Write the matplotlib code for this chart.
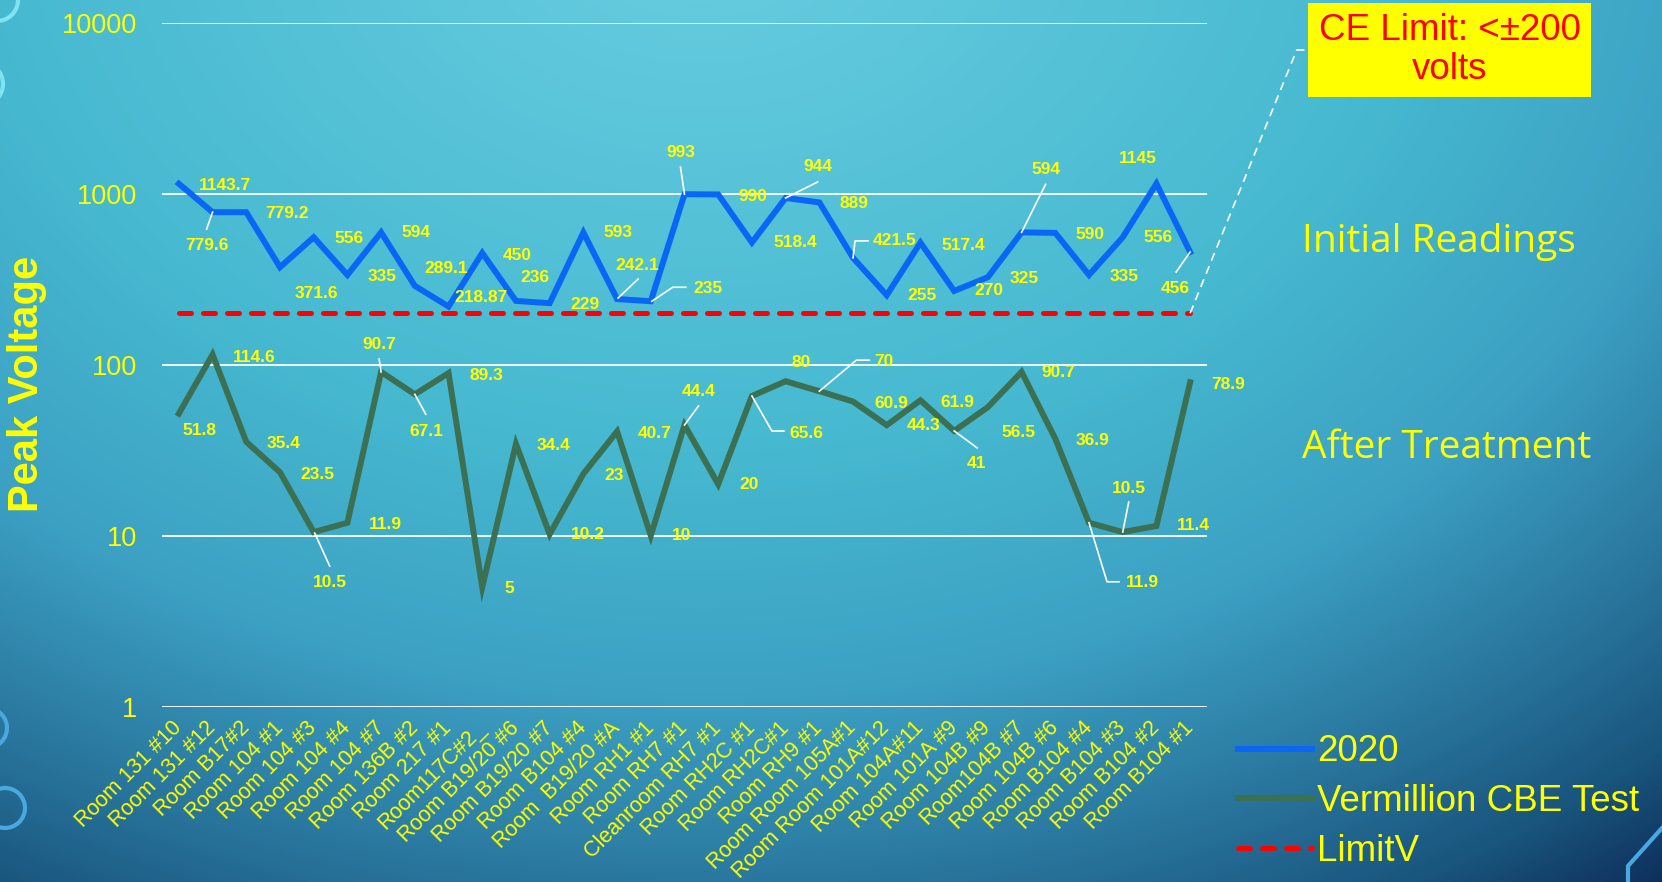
import numpy as np
import matplotlib
matplotlib.use("Agg")
import matplotlib.pyplot as plt
from matplotlib.colors import LinearSegmentedColormap
from matplotlib.lines import Line2D
from matplotlib.patches import Circle, Rectangle
from matplotlib.ticker import NullLocator
from matplotlib.transforms import IdentityTransform

W, H = 1662, 882

rooms = [
    "Room 131 #10", "Room 131 #12", "Room B17#2", "Room 104 #1", "Room 104 #3",
    "Room 104 #4", "Room 104 #7", "Room 136B #2", "Room 217 #1", "Room117C#2_",
    "Room B19/20 #6", "Room B19/20 #7", "Room B104 #4", "Room  B19/20 #A",
    "Room RH1 #1", "Room RH7 #1", "Cleanroom RH7 #1", "Room RH2C #1",
    "Room RH2C#1", "Room RH9 #1", "Room Room 105A#1", "Room Room 101A#12",
    "Room 104A#11", "Room 101A #9", "Room 104B #9", "Room104B #7",
    "Room 104B #6", "Room B104 #4", "Room B104 #3", "Room B104 #2", "Room B104 #1",
]

readings_2020 = [
    1143.7, 779.6, 779.2, 371.6, 556, 335, 594, 289.1, 218.87, 450, 236, 229,
    593, 242.1, 235, 993, 990, 518.4, 944, 889, 421.5, 255, 517.4, 270, 325,
    594, 590, 335, 556, 1145, 456,
]

vermillion = [
    51.8, 114.6, 35.4, 23.5, 10.5, 11.9, 90.7, 67.1, 89.3, 5, 34.4, 10.2, 23,
    40.7, 10, 44.4, 20, 65.6, 80, 70, 60.9, 44.3, 61.9, 41, 56.5, 90.7, 36.9,
    11.9, 10.5, 11.4, 78.9,
]

limit_value = 200
limit_v = [limit_value] * len(rooms)

# label offsets from each point, in pixels (x right, y down)
off_2020 = [
    (46, 2), (-6, 33), (41, 1), (36, 26), (35, 1), (35, 2), (35, 0), (31, -17),
    (32, -9), (35, 2), (19, -23), (35, 1), (35, 0), (20, -34), (57, -13),
    (-4, -42), (35, 2), (43, 0), (32, -31), (35, 1), (42, -17), (35, 0),
    (43, 3), (35, 0), (36, 1), (24, -63), (35, 2), (35, 2), (35, 0),
    (-19, -25), (-15, 36),
]
off_verm = [
    (21, 17), (42, 3), (37, 2), (37, 2), (16, 50), (38, 2), (-2, -27),
    (11, 37), (38, 2), (27, 1), (38, 2), (38, 0), (31, 2), (38, 2), (31, 0),
    (14, -33), (31, 0), (54, 37), (15, -19), (65, -30), (38, 2), (37, 0),
    (37, 2), (22, 33), (31, 25), (37, 1), (37, 2), (53, 60), (6, -44),
    (37, 0), (38, 2),
]

# leader lines (pixel offsets from the point)
lead_2020 = {
    1: [(-6, 17), (0, 0)],
    13: [(1, -1), (21, -20)],
    14: [(1, 0), (22, -14), (35, -14)],
    15: [(-4, -27), (0, 0)],
    18: [(0, 0), (32, -16)],
    20: [(0, 0), (2, -17), (15, -17)],
    25: [(0, 0), (24, -48)],
    30: [(0, 0), (-14, 20)],
}
lead_verm = {
    4: [(1, 1), (16, 34)],
    6: [(-2, -13), (0, 0)],
    7: [(0, 0), (11, 20)],
    15: [(0, 0), (14, -19)],
    17: [(0, 0), (20, 35), (32, 35)],
    19: [(0, 0), (37, -31), (50, -31)],
    23: [(0, 0), (23, 17)],
    27: [(0, 0), (18, 59), (30, 59)],
    28: [(0, 0), (6, -30)],
}

YELLOW = "#FFFF00"
BLUE = "#0A66F5"
GREEN = "#3B7052"
RING = "#4AA8E0"

fig = plt.figure(figsize=(W / 100, H / 100), dpi=100)

# slide background
bg = fig.add_axes([0, 0, 1, 1], zorder=-5)
yy, xx = np.mgrid[0:H:2, 0:W:2]
s = np.hypot((xx - 700) / 1300, (yy + 100) / 1000) / 1.25
bg_cmap = LinearSegmentedColormap.from_list("slide", [
    (0.0, (100 / 255, 202 / 255, 222 / 255)),
    (0.08, (100 / 255, 202 / 255, 222 / 255)),
    (0.44, (70 / 255, 185 / 255, 208 / 255)),
    (0.64, (60 / 255, 160 / 255, 195 / 255)),
    (0.8, (40 / 255, 115 / 255, 155 / 255)),
    (0.9, (25 / 255, 85 / 255, 125 / 255)),
    (1.0, (12 / 255, 40 / 255, 85 / 255)),
])
bg.imshow(s, cmap=bg_cmap, vmin=0, vmax=1, extent=[0, W, H, 0], aspect="auto",
          interpolation="bilinear")
for (cx, cy, r, c) in [(-3, 0, 21, "#7FE3F0"), (-19, 84, 22, "#7FE3F0"),
                       (-13, 728, 20, RING), (5, 808, 20, RING)]:
    bg.add_patch(Circle((cx, cy), r, fill=False, ec=c, lw=3))
bg.plot([1628, 1628, 1662], [882, 866, 828], color=RING, lw=3)
bg.set_xlim(0, W)
bg.set_ylim(H, 0)
bg.axis("off")

ax = fig.add_axes([162 / W, 1 - 706.7 / H, 1045 / W, 684 / H])
ax.set_facecolor("none")
x = np.arange(len(rooms))

ax.plot(x, readings_2020, color=BLUE, lw=4.3, solid_joinstyle="miter", zorder=3)
ax.plot(x, vermillion, color=GREEN, lw=4.3, solid_joinstyle="miter", zorder=3)
ax.plot(x, limit_v, color="#FF0000", lw=3.6, linestyle=(0, (2.4, 2.4)),
        dash_capstyle="round", zorder=3)

ax.set_yscale("log")
ax.set_ylim(1, 10000)
ax.set_xlim(-0.5, len(rooms) - 0.5)
ax.set_yticks([1, 10, 100, 1000, 10000])
ax.set_yticklabels(["1", "10", "100", "1000", "10000"])
ax.yaxis.set_minor_locator(NullLocator())
ax.set_xticks(x)
ax.set_xticklabels(rooms, rotation=45, ha="right", va="center",
                   rotation_mode="anchor")
ax.tick_params(axis="y", length=0, pad=18, labelsize=19.5, labelcolor=YELLOW)
ax.tick_params(axis="x", length=0, pad=13, labelsize=15.5, labelcolor=YELLOW)
for lab in ax.get_xticklabels() + ax.get_yticklabels():
    lab.set_family("Liberation Sans")
ax.yaxis.grid(True, color="white", lw=1.3)
ax.set_axisbelow(True)
for sp in ax.spines.values():
    sp.set_visible(False)

label_font = dict(family=["Liberation Sans Narrow", "Liberation Sans"],
                  weight="bold", fontsize=12.5, color=YELLOW)


def label_series(values, offsets, leaders):
    for i, v in enumerate(values):
        dx, dy = offsets[i]
        ax.annotate(f"{v:g}", (i, v), xytext=(dx, -dy),
                    textcoords="offset pixels", ha="center", va="center",
                    zorder=5, **label_font)
        if i in leaders:
            px, py = ax.transData.transform((i, v))
            pts = leaders[i]
            fig.add_artist(Line2D([px + a for a, b in pts],
                                  [py - b for a, b in pts],
                                  color="white", lw=1.2,
                                  transform=IdentityTransform(), zorder=4))


label_series(readings_2020, off_2020, lead_2020)
label_series(vermillion, off_verm, lead_verm)

fig.text(27 / W, 1 - 384 / H, "Peak Voltage", rotation=90, fontsize=30,
         weight="bold", color=YELLOW, ha="center", va="center",
         family="Liberation Sans")

# limit callout
fig.add_artist(Rectangle((1308 / W, 1 - 96.7 / H), 283 / W, 93.4 / H,
                         transform=fig.transFigure, facecolor=YELLOW,
                         edgecolor="none"))
fig.text(1449.5 / W, 1 - 50 / H, "CE Limit: <±200\nvolts", ha="center",
         va="center", color="#FF0000", fontsize=26.5, linespacing=1.15,
         family="Liberation Sans")
lx, ly = ax.transData.transform((len(rooms) - 1, limit_value))
fig.add_artist(Line2D([lx, 1296.7, 1308], [ly, H - 50, H - 50], color="white",
                      lw=1.2, linestyle=(0, (5, 3.5)),
                      transform=IdentityTransform()))

fig.text(1301.7 / W, 1 - 241.7 / H, "Initial Readings", ha="left", va="center",
         color=YELLOW, fontsize=28, family="Open Sans")
fig.text(1301.7 / W, 1 - 448 / H, "After Treatment", ha="left", va="center",
         color=YELLOW, fontsize=28, family="Open Sans")

handles = [
    Line2D([], [], color=BLUE, lw=4.3),
    Line2D([], [], color=GREEN, lw=4.3),
    Line2D([], [], color="#FF0000", lw=3.6, linestyle=(0, (2.4, 2.4)),
           dash_capstyle="round"),
]
fig.legend(handles, ["2020", "Vermillion CBE Test", "LimitV"],
           loc="center left", bbox_to_anchor=(1238 / W, 1 - 801.7 / H),
           frameon=False, handlelength=2, handletextpad=0.15,
           labelspacing=0.4, borderpad=0, borderaxespad=0,
           labelcolor=YELLOW, prop={"family": "Liberation Sans", "size": 26.5})

fig.savefig("out.png", dpi=100)
